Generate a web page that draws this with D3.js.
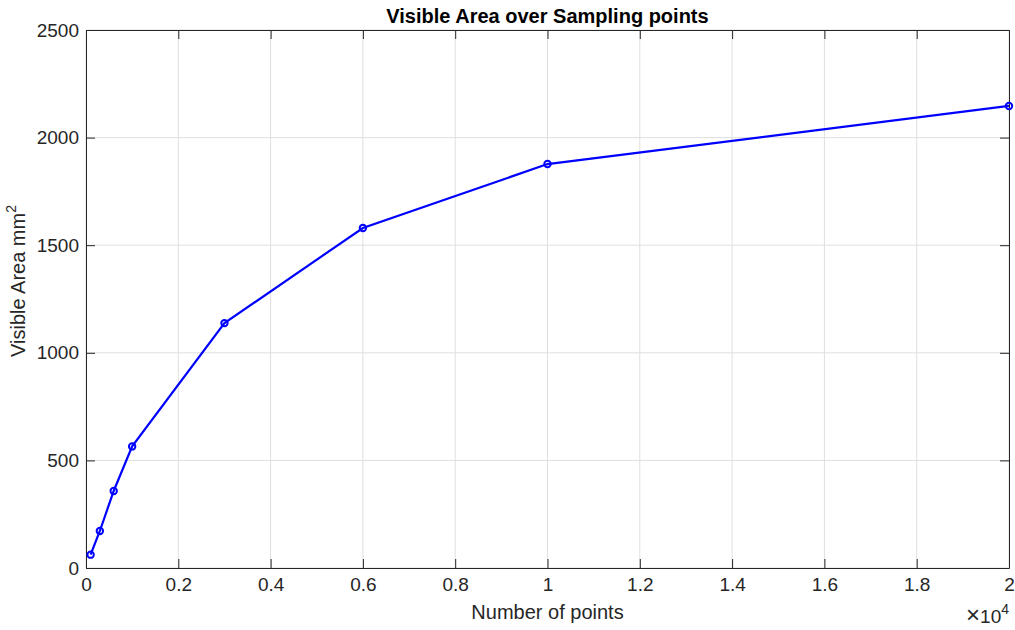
<!DOCTYPE html>
<html>
<head>
<meta charset="utf-8">
<script src="https://cdn.jsdelivr.net/npm/d3@7"></script>
<style>
  body { margin: 0; background: #fff; }
  svg { display: block; font-family: "Liberation Sans", Arial, Helvetica, sans-serif; }
</style>
</head>
<body>
<div class="viz"></div>
<script>
// sampling points and the visible area measured for each
const samplePoints = [100, 300, 600, 1000, 3000, 6000, 10000, 20000];
const visibleArea = [62, 172, 358, 565, 1138, 1580, 1877, 2147];
const xTicks = [0, 0.2, 0.4, 0.6, 0.8, 1, 1.2, 1.4, 1.6, 1.8, 2];
const yTicks = [0, 500, 1000, 1500, 2000, 2500];

const data = samplePoints.map((x, i) => ({ x, y: visibleArea[i] }));

const W = 1015;
const H = 630;
const margin = { top: 30, right: 6, bottom: 62, left: 86 };
const width = W - margin.left - margin.right;
const height = H - margin.top - margin.bottom;

const axisColor = '#262626';

const svg = d3.select('.viz')
  .append('svg')
  .attr('width', W)
  .attr('height', H);

const g = svg.append('g')
  .attr('transform', `translate(${margin.left} ${margin.top})`);

// x is drawn in units of 10^4, like the matlab figure
const xScale = d3.scaleLinear().domain([0, 2]).range([0, width]);
const yScale = d3.scaleLinear().domain([0, 2500]).range([height, 0]);

// grid lines
g.append('g')
  .selectAll('line')
  .data(xTicks)
  .join('line')
  .attr('x1', d => xScale(d))
  .attr('x2', d => xScale(d))
  .attr('y1', 0)
  .attr('y2', height)
  .attr('stroke', '#dfdfdf')
  .attr('stroke-width', 1);

g.append('g')
  .selectAll('line')
  .data(yTicks)
  .join('line')
  .attr('x1', 0)
  .attr('x2', width)
  .attr('y1', d => yScale(d))
  .attr('y2', d => yScale(d))
  .attr('stroke', '#dfdfdf')
  .attr('stroke-width', 1);

// axes with inner ticks on all four sides
const tickLen = 9;
const bottomAxis = d3.axisBottom(xScale).tickValues(xTicks).tickSizeInner(-tickLen).tickSizeOuter(0).tickPadding(8).tickFormat(d3.format('~g'));
const leftAxis = d3.axisLeft(yScale).tickValues(yTicks).tickSizeInner(-tickLen).tickSizeOuter(0).tickPadding(7).tickFormat(d3.format('d'));
const topAxis = d3.axisTop(xScale).tickValues(xTicks).tickSizeInner(-tickLen).tickSizeOuter(0).tickFormat('');
const rightAxis = d3.axisRight(yScale).tickValues(yTicks).tickSizeInner(-tickLen).tickSizeOuter(0).tickFormat('');

g.append('g').attr('class', 'axis x').attr('transform', `translate(0 ${height})`).call(bottomAxis);
g.append('g').attr('class', 'axis y').call(leftAxis);
g.append('g').attr('class', 'axis').call(topAxis);
g.append('g').attr('class', 'axis').attr('transform', `translate(${width} 0)`).call(rightAxis);

g.selectAll('.axis path').attr('stroke', axisColor).attr('stroke-width', 1);
g.selectAll('.axis line').attr('stroke', axisColor).attr('stroke-width', 1);
g.selectAll('.axis text')
  .attr('fill', axisColor)
  .attr('font-size', '19px')
  .attr('font-family', '"Liberation Sans", Arial, sans-serif');
// inner ticks: keep labels outside the box
g.selectAll('.axis.x text').attr('y', 10);
g.selectAll('.axis.y text').attr('x', -7);

// the line and its markers
const line = d3.line()
  .x(d => xScale(d.x / 1e4))
  .y(d => yScale(d.y));

g.append('path')
  .datum(data)
  .attr('d', line)
  .attr('fill', 'none')
  .attr('stroke', '#0000ff')
  .attr('stroke-width', 2.2);

g.append('g')
  .selectAll('circle')
  .data(data)
  .join('circle')
  .attr('cx', d => xScale(d.x / 1e4))
  .attr('cy', d => yScale(d.y))
  .attr('r', 3.2)
  .attr('fill', 'none')
  .attr('stroke', '#0000ff')
  .attr('stroke-width', 2);

// title and axis labels
svg.append('text')
  .attr('x', margin.left + width / 2)
  .attr('y', 23)
  .attr('text-anchor', 'middle')
  .attr('font-size', '20px')
  .attr('font-weight', 'bold')
  .attr('fill', '#000')
  .text('Visible Area over Sampling points');

svg.append('text')
  .attr('x', margin.left + width / 2)
  .attr('y', 619)
  .attr('text-anchor', 'middle')
  .attr('font-size', '20px')
  .attr('fill', axisColor)
  .text('Number of points');

const yLabel = svg.append('text')
  .attr('transform', 'translate(25 281) rotate(-90)')
  .attr('text-anchor', 'middle')
  .attr('font-size', '20px')
  .attr('fill', axisColor);
yLabel.append('tspan').text('Visible Area mm');
yLabel.append('tspan').attr('dy', -9).attr('font-size', '14px').text('2');

// exponent of the x axis
const expo = svg.append('text')
  .attr('x', 1009)
  .attr('y', 623)
  .attr('text-anchor', 'end')
  .attr('font-size', '19px')
  .attr('fill', axisColor);
expo.append('tspan').attr('font-size', '24px').attr('font-weight', 300).attr('dx', 0).text('\u00d7');
expo.append('tspan').text('10');
expo.append('tspan').attr('dy', -9).attr('font-size', '14px').text('4');
</script>
</body>
</html>
